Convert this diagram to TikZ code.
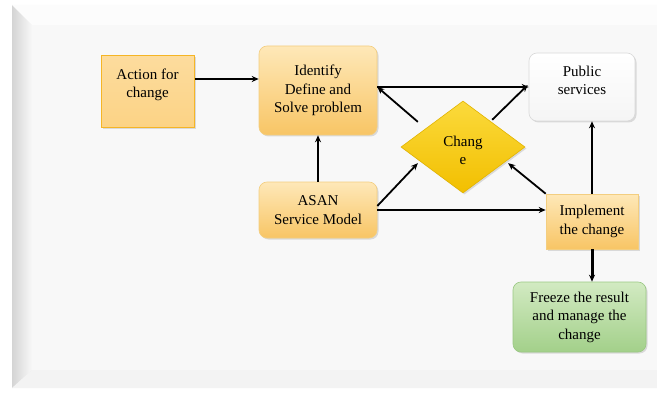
\documentclass[tikz,border=0pt]{standalone}
\usepackage{fontspec}
\setmainfont{Liberation Serif}
\usetikzlibrary{shapes.geometric,shadows,arrows.meta}
\definecolor{panel}{HTML}{F8F8F8}
\definecolor{bevel}{HTML}{D4D4D4}
\definecolor{actfill}{HTML}{FCD385}
\definecolor{actline}{HTML}{F5B526}
\definecolor{boxtop}{HTML}{FEE8B8}
\definecolor{boxbot}{HTML}{F8C565}
\definecolor{boxline}{HTML}{F3CE80}
\definecolor{goldtop}{HTML}{FBDA3C}
\definecolor{goldbot}{HTML}{F2BF00}
\definecolor{goldline}{HTML}{E2B400}
\definecolor{greentop}{HTML}{D2EAC2}
\definecolor{greenbot}{HTML}{A3D08A}
\definecolor{greenline}{HTML}{9AC883}
% raise the lines of a label without changing the box size
\newcommand\liftlines[2]{\raisebox{#1}[\height][\depth]{\begin{tabular}{@{}c@{}}#2\end{tabular}}}
\begin{document}
\begin{tikzpicture}[>={Stealth[length=7pt,width=6pt]}, x=1pt, y=-1pt,
    every node/.style={font=\fontsize{15}{18.5}\selectfont, align=center, inner sep=0pt},
    dropshade/.style={drop shadow={shadow xshift=1.5pt, shadow yshift=-1.5pt, opacity=0.25}},
    actbox/.style={draw=actline, line width=1pt, top color=actfill!80!white, bottom color=actfill, dropshade},
    rbox/.style={draw=boxline, line width=0.6pt, top color=boxtop, bottom color=boxbot, rounded corners=8pt, dropshade},
    sbox/.style={draw=boxline, line width=0.6pt, top color=boxtop, bottom color=boxbot, dropshade},
    pubbox/.style={draw=gray!30, line width=0.6pt, top color=white, bottom color=gray!8, rounded corners=8pt, dropshade},
    greenbox/.style={draw=greenline, line width=0.6pt, top color=greentop, bottom color=greenbot, rounded corners=8pt, dropshade},
    goldbox/.style={diamond, aspect=1.35, draw=goldline, line width=0.6pt, top color=goldtop, bottom color=goldbot, dropshade},
    link/.style={->, line width=1.8pt}]
    \useasboundingbox (0,0) rectangle (657,396);
    % panel behind the diagram
    \fill[white] (0,0) rectangle (657,396);
    \fill[bevel!45] (12,5) rectangle (657,388);
    \shade[left color=bevel, right color=panel] (12,5) -- (32,25) -- (32,370) -- (12,388) -- cycle;
    \fill[white!60!panel] (12,5) -- (657,5) -- (657,25) -- (32,25) -- cycle;
    \fill[panel!98!black] (12,388) -- (32,370) -- (657,370) -- (657,388) -- cycle;
    \fill[panel] (32,25) rectangle (657,370);
    % nodes
    \node[actbox, minimum width=93pt, minimum height=72pt] (action) at (147.5,92) {\liftlines{7pt}{Action for\\change}};
    \node[rbox, minimum width=118pt, minimum height=89pt] (identify) at (318,90.5) {Identify\\Define and\\Solve problem};
    \node[pubbox, minimum width=106pt, minimum height=68pt] (public) at (582,87) {\liftlines{5pt}{Public\\services}};
    \node[goldbox, minimum width=124pt, minimum height=92pt] (change) at (463,147) {\liftlines{-5pt}{Chang\\e}};
    \node[rbox, minimum width=118pt, minimum height=56pt] (asan) at (318,210) {ASAN\\Service Model};
    \node[sbox, minimum width=92pt, minimum height=55pt] (implement) at (592,221.5) {Implement\\the change};
    \node[greenbox, minimum width=133pt, minimum height=70pt] (freeze) at (579.5,317) {Freeze the result\\and manage the\\change};
    % connectors
    \draw[link] ([yshift=13pt]action.east) -- ([yshift=13pt]action.east -| identify.west);
    \draw[link] (identify.east |- public.west) -- (public.west);
    \draw[link] ([shift={(-14,-2)}]change.north west) -- (identify.east |- public.west);
    \draw[link] ([shift={(-2,-4)}]change.north east) -- ([shift={(-1,-2)}]public.west);
    \draw[link] (asan.north) -- (identify.south);
    \draw[link] ([yshift=4pt]asan.east) -- ([shift={(-14,-7)}]change.south west);
    \draw[link] (asan.east) -- (asan.east -| implement.west);
    \draw[link] (implement.north west) -- ([shift={(14,-7)}]change.south east);
    \draw[link] (implement.north) -- (implement.north |- public.south);
    \draw[->, line width=3pt] (implement.south) -- (implement.south |- freeze.north);
\end{tikzpicture}
\end{document}
